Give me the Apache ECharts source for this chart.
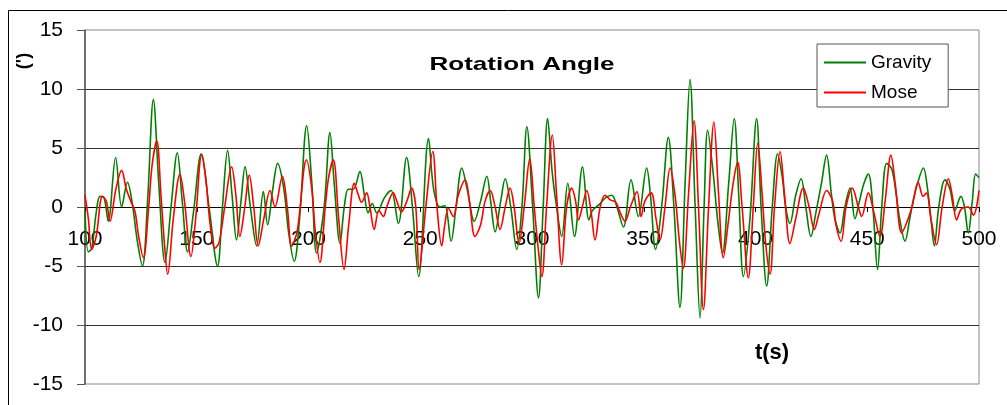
<!DOCTYPE html>
<html>
<head>
<meta charset="utf-8">
<script src="https://cdn.jsdelivr.net/npm/echarts@6/dist/echarts.min.js"></script>
<style>
html, body { margin: 0; padding: 0; background: #fff; }
#chart { width: 1007px; height: 405px; }
</style>
</head>
<body>
<div id="chart"></div>
<script>
// axis ranges / ticks
const xTicks = [100, 150, 200, 250, 300, 350, 400, 450, 500]
const yTicks = [-15, -10, -5, 0, 5, 10, 15]

// [t(s), angle], peaks and troughs mostly
const gravityPoints = [
  [100, -0.3], [101.5, -3.8], [103, -3.5], [105, -0.5], [106.7, 0.9], [108.5, 0.8], [110.4, -1.2],
  [113.7, 4.2], [116.4, 0.0], [119, 2.1], [121, 0.5], [123.5, -3.0], [125.7, -5.0], [128, 0.5],
  [130.6, 9.1], [133, 2.0], [135.8, -4.7], [138.5, 0], [141.3, 4.6], [143.5, 0.5], [145.9, -3.8],
  [148.5, -0.5], [152, 4.5], [155.5, 0], [159.3, -5.0], [161.5, 0], [163.8, 4.8], [165.8, 1.0],
  [167.8, -2.8], [169.8, 0.5], [171.6, 3.4], [174, 0], [176.8, -3.3], [179.8, 1.3], [181.7, -1.5],
  [184, 1.5], [186.2, 3.7], [189, 1.5], [191, -2.0], [193.6, -4.6], [196, -1], [199.2, 6.9],
  [201.5, 2.0], [203.6, -3.9], [207, 0], [209.6, 6.3], [211.5, 2.0], [214.1, -3.1], [216, 0],
  [217.8, 1.5], [220, 1.5], [223, 3.0], [225, 1.0], [226.7, -0.5], [228.5, 0.3], [230.5, -0.5],
  [234, 0.8], [236.9, 1.4], [240.2, -1.4], [243.9, 4.2], [246.5, 0], [249.3, -5.9], [253.7, 5.8],
  [256, 1.5], [258.9, 0.0], [261, 0.1], [263.8, -2.9], [266, 0], [268.6, 3.3], [271, 1.5],
  [274.2, -1.2], [277, 0.5], [279.8, 2.6], [281.5, 0.5], [283.5, -2.1], [286, 0.5], [288, 2.4],
  [290.5, 0], [293.2, -3.6], [295.5, 0], [297.7, 6.8], [300.3, 0], [302.9, -7.7], [305, 0],
  [307, 7.5], [309, 3], [311, 0], [313.3, -2.5], [316, 2.0], [319, -2.5], [322.6, 3.4],
  [325.5, -1.1], [327, -0.3], [330, 0.2], [333, 0.8], [335.7, 1.0], [338, 0], [340.9, -1.7],
  [344.3, 2.3], [347.6, -0.8], [351.3, 3.3], [353, 1.0], [355.3, -3.6], [358, 0], [361, 5.9],
  [363.5, 0], [366.2, -8.5], [368.5, 2], [370.7, 10.8], [373, 0], [375.2, -9.4], [377, 0],
  [378.6, 6.5], [381, 3], [383, -1], [385.2, -3.9], [388, 2], [390.5, 7.5], [392.5, 1],
  [394.6, -5.9], [397.5, -1], [400.5, 7.5], [402.5, 0], [405, -6.7], [407.5, 0], [409.9, 4.5],
  [412, 2.5], [413.5, 0], [415.4, -1.4], [418, 1.0], [420.4, 2.4], [422.5, 0], [424.8, -2.5],
  [427, -0.5], [429.5, 2.0], [431.8, 4.4], [434, 1.0], [435.5, -1], [437.8, -2.2], [440, 0],
  [442.3, 1.6], [444.5, -1.0], [446.5, 0.5], [448.5, 2.0], [450.5, 2.8], [452.5, 0], [454.6, -5.3],
  [456.5, 0], [458.7, 3.7], [461, 3.2], [463, 1], [464.5, -1], [466.9, -2.9], [469, -1],
  [470.5, 0.5], [472.5, 2], [475.1, 3.3], [477, 1.5], [478.5, -1], [480, -3.3], [482, 0],
  [484.8, 2.3], [487, 1.5], [489.2, -0.3], [491.9, 0.9], [493.5, 0], [495.2, -2.2], [497, 0.5],
  [498.5, 2.8], [500, 2.5]
]

const mosePoints = [
  [100, 1.0], [101.5, -1.0], [103, -3.6], [105, -2.5], [107.8, 0.9], [109.5, 0.5], [111.2, -1.2],
  [113.8, 1.5], [116.4, 3.1], [118.5, 1.5], [120.5, 0.5], [122.4, -0.4], [124, -2.5], [126.1, -4.3],
  [128.5, 0], [130, 3.5], [132.1, 5.6], [134, 1], [135.5, -3], [137, -5.7], [139.5, -1],
  [142.5, 2.8], [144.5, 0.5], [147.4, -4.2], [149.5, -1], [152.2, 4.4], [154, 2.5], [156, -1.5],
  [158.1, -3.5], [160, -3], [162.5, 0], [165.6, 3.4], [167.5, 1], [169.3, -2.5], [171.5, 0],
  [173.5, 2.7], [175.5, 0], [177.5, -3.3], [180, -1], [182.8, 1.4], [185, 0.0], [188.3, 2.6],
  [190.5, 0], [192.5, -3.3], [195, -2], [199.1, 4.0], [201.5, 1.5], [203, -2], [205.1, -4.7],
  [207.5, 0], [209, 2.5], [211.1, 4.0], [213.5, -1], [215.9, -5.3], [218, -1.5], [220.5, 2.0],
  [222, 1.2], [223.8, 0.4], [226, 1.2], [227.5, 0], [229.4, -1.9], [231.5, -0.3], [233.5, -0.8],
  [235, 0], [237.9, 1.2], [239.5, 0.5], [241.6, -0.4], [244, 0.5], [246.1, 1.6], [248, 0],
  [249.5, -5.3], [252.5, 0], [255.6, 4.7], [257.5, 0], [259.6, -3.3], [261, -1.5], [262.6, -0.1],
  [264.8, -0.8], [267, 1.0], [270.1, 2.3], [272, 0.5], [274.5, -2.5], [277, -1.5], [279, 0.5],
  [281.3, 1.4], [283.5, 0], [285.7, -1.9], [288, 0], [290.2, 1.6], [292, 0], [294.2, -3.1],
  [296.5, 0], [299, 4.1], [301, 0], [302.5, -3], [304.4, -5.9], [306.5, 0], [309.1, 6.1],
  [311, 1], [313.3, -4.9], [315.5, 0], [317.8, 1.6], [319.5, 0.5], [320.8, -1.1], [322.5, 0],
  [324.5, 1.4], [326.5, -0.5], [328.2, -2.8], [330.5, 0], [332.7, 1.0], [335, 0.6], [337.5, 0.4],
  [339.5, -0.5], [341.6, -1.2], [344, 0], [347, 1.3], [348.8, -0.8], [350.5, 0.5], [353.3, 1.2],
  [355.5, -1], [357.3, -2.8], [359.5, 0], [361.8, 3.3], [364, 1], [366, -3], [367.7, -5.2],
  [370, 1], [372.5, 7.3], [374.5, 0], [376.7, -8.7], [379, 0], [381.4, 7.2], [383.5, 1],
  [385.6, -4.3], [388, -1], [390, 2], [392, 3.8], [394, 0], [396.8, -6.0], [399, 0],
  [401, 5.4], [403, 1], [404.5, -3], [406.5, -5.7], [408.5, 0], [411, 4.7], [413, 1],
  [415.4, -3.1], [418, -1], [421.4, 1.6], [424, 0], [426.3, -1.9], [428.5, -0.5], [431.8, 1.4],
  [434.5, 0.5], [436, -1.5], [438.3, -2.9], [440.5, 0], [443.3, 1.6], [446, 0], [447.5, -0.8],
  [450.5, 1.2], [453, -0.5], [455.7, -2.5], [458, 0.5], [460.6, 4.4], [462.5, 2], [465.4, -2.2],
  [467.5, -1.4], [470, 0], [472.8, 2.1], [475, 0.9], [476.5, 1.2], [478.5, -1], [481, -3.2],
  [483.5, 0], [486.3, 2.4], [488, 1], [490, -1.1], [492, -0.2], [495.2, 0.0], [497.5, -0.7],
  [500, 1.4]
]

const fontFamily = "'Liberation Sans', Arial, sans-serif"

// plot box in px (the x axis sits on the zero line, half way down)
const gridTop = 30
const gridBottom = 21
const plotH = 405 - gridTop - gridBottom

const chart = echarts.init(document.getElementById('chart'))

const option = {
  animation: false,
  backgroundColor: '#fff',
  grid: {
    left: 85,
    right: 28,
    top: gridTop,
    bottom: gridBottom,
    show: true,
    borderColor: '#888',
    borderWidth: 1
  },
  legend: {
    orient: 'vertical',
    left: 817,
    top: 44,
    padding: [9, 17, 5, 7],
    icon: 'rect',
    itemWidth: 42,
    itemHeight: 2,
    itemGap: 11,
    backgroundColor: '#fff',
    borderColor: '#555',
    borderWidth: 1,
    textStyle: { fontFamily, fontSize: 19, color: '#000' },
    data: ['Gravity', 'Mose']
  },
  xAxis: {
    type: 'value',
    min: xTicks[0],
    max: xTicks[xTicks.length - 1],
    interval: 50,
    offset: -plotH / 2,
    axisLine: { onZero: false, lineStyle: { color: '#000', width: 1 } },
    axisTick: { show: true, length: 5, lineStyle: { color: '#000' } },
    axisLabel: { fontFamily, fontSize: 21, color: '#000', margin: 22 },
    splitLine: { show: false }
  },
  yAxis: {
    type: 'value',
    min: yTicks[0],
    max: yTicks[yTicks.length - 1],
    interval: 5,
    axisLine: { show: true, onZero: false, lineStyle: { color: '#555', width: 1.5 } },
    axisTick: { show: true, length: 8, lineStyle: { color: '#555' } },
    axisLabel: { fontFamily, fontSize: 21, color: '#000', margin: 22 },
    splitLine: { show: true, showMinLine: false, showMaxLine: false, lineStyle: { color: '#333', width: 1 } }
  },
  series: [
    {
      name: 'Gravity',
      type: 'line',
      data: gravityPoints,
      symbol: 'none',
      smooth: 0.35,
      color: '#008000',
      lineStyle: { color: '#008000', width: 1.6 }
    },
    {
      name: 'Mose',
      type: 'line',
      data: mosePoints,
      symbol: 'none',
      smooth: 0.35,
      color: '#ff0000',
      lineStyle: { color: '#ff0000', width: 1.6 }
    }
  ],
  graphic: [
    {
      type: 'rect',
      z: -1,
      shape: { x: 8.5, y: 10.5, width: 1100, height: 500 },
      style: { fill: 'none', stroke: '#000', lineWidth: 1 }
    },
    {
      type: 'text',
      x: 522,
      y: 65,
      scaleX: 1.37,
      style: {
        text: 'Rotation Angle',
        fontFamily, fontSize: 19, fontWeight: 'bold', fill: '#000',
        textAlign: 'center', textVerticalAlign: 'middle'
      }
    },
    {
      type: 'text',
      x: 24,
      y: 61,
      rotation: Math.PI / 2,
      style: {
        text: "(')",
        fontFamily, fontSize: 18, fontWeight: 'bold', fill: '#000',
        textAlign: 'center', textVerticalAlign: 'middle'
      }
    },
    {
      type: 'text',
      x: 772,
      y: 353,
      style: {
        text: 't(s)',
        fontFamily, fontSize: 22, fontWeight: 'bold', fill: '#000',
        textAlign: 'center', textVerticalAlign: 'middle'
      }
    }
  ]
}

chart.setOption(option)
</script>
</body>
</html>
